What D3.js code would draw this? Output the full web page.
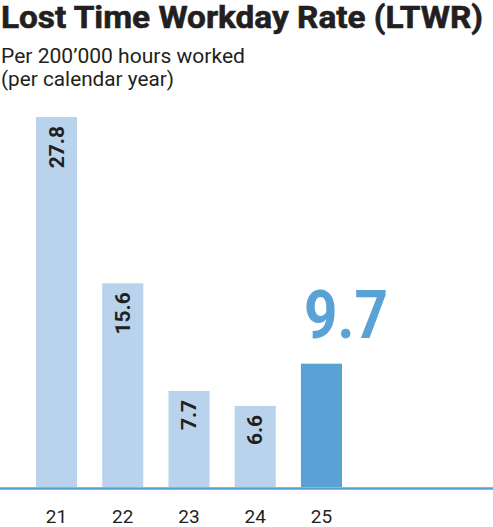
<!DOCTYPE html>
<html lang="en">
<head>
<meta charset="utf-8">
<title>Lost Time Workday Rate (LTWR)</title>
<script src="https://cdn.jsdelivr.net/npm/d3@7"></script>
<style>
  body { margin: 0; background: #fff; }
  svg { display: block; font-family: Roboto, "Liberation Sans", sans-serif; }
</style>
</head>
<body>
<div id="chart"></div>
<script>
// data
var years = ["21", "22", "23", "24", "25"];
var rates = [27.8, 15.6, 7.7, 6.6, 9.7];
var highlight = "25";

var W = 493, H = 527;
var lightBlue = "#b9d3ed", darkBlue = "#5aa2d5";

var svg = d3.select("#chart").append("svg")
    .attr("width", W)
    .attr("height", H);

// title + subtitle
svg.append("text")
    .attr("x", 1).attr("y", 28)
    .attr("font-size", 31).attr("font-weight", 700)
    .attr("fill", "#231f20")
    .attr("stroke", "#231f20").attr("stroke-width", 0.6)
    .attr("textLength", 482).attr("lengthAdjust", "spacingAndGlyphs")
    .text("Lost Time Workday Rate (LTWR)");
svg.append("text")
    .attr("x", 1).attr("y", 63)
    .attr("font-size", 20).attr("fill", "#231f20")
    .attr("textLength", 244).attr("lengthAdjust", "spacingAndGlyphs")
    .text("Per 200\u2019000 hours worked");
svg.append("text")
    .attr("x", 1).attr("y", 86)
    .attr("font-size", 20).attr("fill", "#231f20")
    .attr("textLength", 173).attr("lengthAdjust", "spacingAndGlyphs")
    .text("(per calendar year)");

// scales
var x = d3.scaleBand()
    .domain(years)
    .range([36, 342])
    .paddingInner(0.38)
    .paddingOuter(0);

var baseY = 487;
var y = d3.scaleLinear()
    .domain([0.65, 27.8])
    .range([baseY, 117]);

var rows = years.map(function(d, i){ return {year: d, value: rates[i]}; });

// bars
svg.selectAll("rect.bar")
  .data(rows)
  .enter().append("rect")
    .attr("class", "bar")
    .attr("x", function(d){ return x(d.year); })
    .attr("y", function(d){ return y(d.value); })
    .attr("width", x.bandwidth())
    .attr("height", function(d){ return baseY - y(d.value); })
    .attr("fill", function(d){ return d.year == highlight ? darkBlue : lightBlue; });

// rotated labels inside the light bars
svg.selectAll("text.val")
  .data(rows.filter(function(d){ return d.year != highlight; }))
  .enter().append("text")
    .attr("class", "val")
    .attr("transform", function(d){
      return "translate(" + (x(d.year) + x.bandwidth() / 2 + 7) + "," + (y(d.value) + 9) + ") rotate(-90)";
    })
    .attr("text-anchor", "end")
    .attr("font-size", 21).attr("font-weight", 700)
    .attr("fill", "#231f20")
    .text(function(d){ return d3.format(".1f")(d.value); });

// big label for the highlighted year
var hl = rows.filter(function(d){ return d.year == highlight; })[0];
svg.append("text")
    .attr("x", x(hl.year) + 3)
    .attr("y", y(hl.value) - 26)
    .attr("font-size", 67).attr("font-weight", 700)
    .attr("fill", darkBlue)
    .attr("textLength", 84).attr("lengthAdjust", "spacingAndGlyphs")
    .text(d3.format(".1f")(hl.value));

// baseline
svg.append("line")
    .attr("x1", 0).attr("x2", W)
    .attr("y1", baseY + 1.5).attr("y2", baseY + 1.5)
    .attr("stroke", darkBlue).attr("stroke-width", 2.5);

// x axis labels
var xAxis = svg.append("g")
    .attr("transform", "translate(0," + (baseY + 2) + ")")
    .call(d3.axisBottom(x).tickSize(0).tickPadding(21));
xAxis.select(".domain").remove();
xAxis.selectAll("text")
    .attr("font-size", 19)
    .attr("font-family", "Roboto, sans-serif")
    .attr("fill", "#231f20");
</script>
</body>
</html>
